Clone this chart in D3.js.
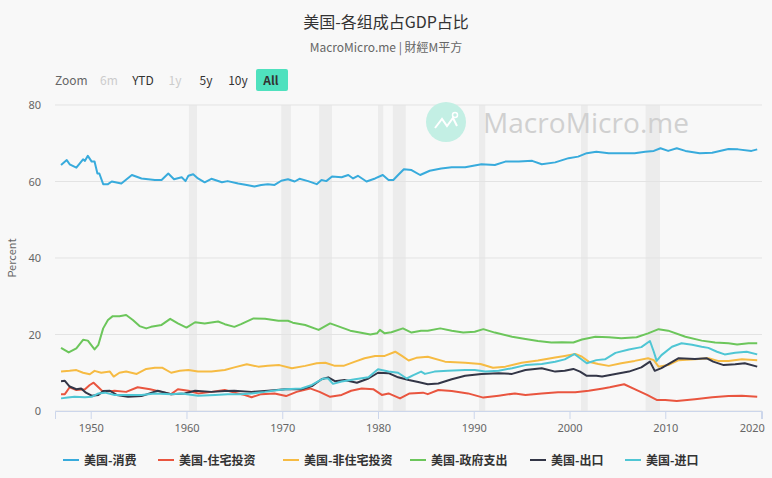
<!DOCTYPE html>
<html>
<head>
<meta charset="utf-8">
<script src="https://cdn.jsdelivr.net/npm/d3@7"></script>
<style>
  html, body { margin: 0; padding: 0; background: #f8f8f8; }
  svg { display: block; font-family: "Noto Sans CJK SC", "Noto Sans", sans-serif; }
</style>
</head>
<body>
<div id="chart"></div>
<script>
// [year, percent of GDP]
const consumption = [
  [1946.9, 64.3], [1947.5, 65.6], [1947.8, 64.5], [1948.5, 63.6], [1949.2, 65.8], [1949.4, 65.4],
  [1949.7, 66.7], [1950.1, 65.2], [1950.4, 65.2], [1950.7, 62.1], [1950.9, 62.1], [1951.3, 59.3],
  [1951.8, 59.3], [1952.2, 60.0], [1953.2, 59.5], [1954.3, 61.7], [1955.3, 60.8], [1956.7, 60.4],
  [1957.4, 60.4], [1958.1, 62.1], [1958.7, 60.6], [1959.5, 61.1], [1959.9, 60.1], [1960.2, 61.5],
  [1960.7, 61.9], [1961.2, 60.8], [1961.9, 59.8], [1962.6, 60.7], [1963.7, 59.8], [1964.3, 60.1],
  [1965.4, 59.5], [1966.3, 59.1], [1967.1, 58.7], [1967.8, 59.1], [1968.5, 59.3], [1969.2, 59.1],
  [1969.9, 60.2], [1970.6, 60.6], [1971.3, 60.0], [1971.8, 60.7], [1972.7, 60.1], [1973.6, 59.3],
  [1974.1, 60.4], [1974.6, 60.1], [1975.2, 61.3], [1976.2, 61.1], [1976.9, 61.7], [1977.4, 60.8],
  [1977.9, 61.5], [1978.8, 60.0], [1979.7, 60.8], [1980.5, 61.7], [1981.1, 60.4], [1981.6, 60.4],
  [1982.1, 61.7], [1982.7, 63.2], [1983.5, 63.0], [1984.4, 61.7], [1985.4, 62.8], [1986.6, 63.4],
  [1987.7, 63.7], [1989.1, 63.7], [1990.8, 64.5], [1992.2, 64.3], [1993.3, 65.2], [1994.7, 65.2],
  [1996.1, 65.4], [1997.1, 64.5], [1998.5, 65.0], [1999.9, 66.1], [2000.9, 66.5], [2001.8, 67.4],
  [2002.8, 67.8], [2004.1, 67.4], [2005.4, 67.4], [2006.8, 67.4], [2007.9, 67.8], [2008.8, 68.0],
  [2009.5, 68.7], [2010.3, 68.0], [2011.2, 68.7], [2012.1, 68.0], [2013.6, 67.4], [2014.9, 67.5],
  [2016.6, 68.5], [2017.6, 68.4], [2019.0, 68.0], [2019.6, 68.4]
]
const residential = [
  [1946.9, 4.4], [1947.3, 4.4], [1947.8, 6.2], [1948.5, 5.5], [1949.4, 5.7], [1949.9, 6.8],
  [1950.3, 7.4], [1950.8, 6.2], [1951.3, 5.0], [1952.5, 5.3], [1953.7, 5.0], [1954.9, 6.2],
  [1956.2, 5.7], [1957.4, 5.0], [1958.4, 4.4], [1959.1, 5.7], [1960.2, 5.3], [1961.2, 4.6],
  [1962.6, 5.0], [1964.0, 5.5], [1965.0, 4.8], [1966.1, 4.2], [1966.8, 3.6], [1967.8, 4.4],
  [1969.2, 4.6], [1970.4, 3.9], [1971.5, 5.0], [1972.9, 5.9], [1973.9, 5.0], [1975.0, 3.7],
  [1976.2, 4.2], [1977.2, 5.3], [1978.3, 5.9], [1979.5, 5.7], [1980.4, 4.2], [1981.1, 4.6],
  [1982.3, 3.3], [1983.3, 4.6], [1984.7, 4.8], [1985.2, 4.4], [1986.3, 5.5], [1987.7, 5.2],
  [1989.4, 4.6], [1991.0, 3.5], [1992.6, 4.0], [1994.3, 4.6], [1995.4, 4.2], [1997.1, 4.6],
  [1998.8, 4.9], [2000.6, 4.9], [2002.0, 5.3], [2003.5, 5.9], [2004.2, 6.2], [2005.7, 7.0],
  [2006.8, 5.7], [2008.1, 4.2], [2009.1, 2.9], [2010.0, 2.9], [2011.2, 2.6], [2013.1, 3.1],
  [2014.9, 3.6], [2016.6, 3.9], [2018.0, 4.0], [2019.6, 3.7]
]
const nonResidential = [
  [1946.9, 10.3], [1947.8, 10.5], [1948.5, 10.7], [1949.2, 10.0], [1949.9, 9.6], [1950.4, 10.5],
  [1951.1, 10.0], [1952.0, 10.3], [1952.4, 9.0], [1953.0, 10.0], [1953.7, 10.3], [1954.8, 9.7],
  [1955.8, 11.0], [1956.7, 11.3], [1957.5, 11.3], [1958.4, 10.0], [1959.3, 10.5], [1960.2, 10.7],
  [1961.2, 10.3], [1962.6, 10.3], [1964.0, 10.7], [1965.0, 11.4], [1966.3, 12.2], [1967.5, 11.6],
  [1968.5, 11.8], [1969.7, 12.0], [1971.0, 11.2], [1972.4, 11.8], [1973.6, 12.5], [1974.5, 12.6],
  [1975.5, 11.8], [1976.4, 11.8], [1977.6, 12.9], [1978.6, 13.8], [1979.7, 14.4], [1980.7, 14.4],
  [1981.8, 15.5], [1982.5, 14.4], [1983.2, 13.2], [1984.0, 13.9], [1985.2, 14.2], [1987.0, 12.9],
  [1989.1, 12.6], [1990.7, 12.3], [1992.0, 11.3], [1993.3, 11.6], [1995.0, 12.6], [1996.7, 13.2],
  [1998.5, 14.0], [1999.5, 14.4], [2000.6, 14.9], [2001.3, 14.2], [2002.0, 12.9], [2003.0, 12.3],
  [2004.1, 11.8], [2005.4, 12.5], [2006.8, 13.1], [2008.2, 13.8], [2008.8, 13.3], [2009.3, 11.6],
  [2010.3, 12.0], [2011.4, 13.3], [2013.1, 13.5], [2014.5, 13.8], [2015.5, 13.1], [2016.6, 13.1],
  [2018.0, 13.5], [2019.6, 13.3]
]
const government = [
  [1946.9, 16.5], [1947.7, 15.3], [1948.5, 16.4], [1949.2, 18.6], [1949.7, 18.4], [1950.4, 16.1],
  [1950.8, 17.3], [1951.3, 21.6], [1951.8, 23.8], [1952.3, 24.8], [1953.0, 24.8], [1953.7, 25.1],
  [1954.4, 23.8], [1955.1, 22.2], [1955.8, 21.6], [1956.3, 22.0], [1957.4, 22.5], [1958.3, 24.1],
  [1959.1, 22.9], [1960.0, 21.8], [1960.9, 23.2], [1961.9, 22.9], [1963.3, 23.4], [1964.0, 22.7],
  [1965.0, 22.0], [1965.7, 22.7], [1967.0, 24.2], [1968.2, 24.1], [1969.6, 23.6], [1970.6, 23.6],
  [1971.1, 23.1], [1972.4, 22.5], [1973.8, 21.2], [1975.0, 22.9], [1975.8, 22.2], [1977.1, 21.0],
  [1978.1, 20.5], [1979.2, 20.0], [1979.9, 20.3], [1980.2, 21.2], [1980.7, 20.3], [1981.4, 20.6],
  [1982.6, 21.6], [1983.5, 20.5], [1984.5, 21.0], [1985.2, 21.0], [1986.5, 21.6], [1987.7, 21.0],
  [1988.9, 20.5], [1990.1, 20.7], [1991.0, 21.4], [1992.2, 20.5], [1994.0, 19.4], [1995.4, 18.8],
  [1996.7, 18.3], [1998.1, 17.9], [1999.2, 18.0], [2000.4, 17.9], [2001.3, 18.7], [2002.7, 19.4],
  [2004.1, 19.3], [2005.4, 19.0], [2007.0, 19.3], [2008.2, 20.3], [2009.3, 21.4], [2010.3, 21.0],
  [2012.1, 19.4], [2013.8, 18.4], [2015.2, 17.9], [2016.6, 17.7], [2017.5, 17.4], [2018.7, 17.7],
  [2019.6, 17.7]
]
const exports = [
  [1946.9, 7.8], [1947.3, 7.9], [1947.8, 6.4], [1948.5, 5.7], [1949.0, 5.9], [1949.5, 4.8],
  [1950.1, 4.0], [1950.8, 4.2], [1951.3, 5.2], [1952.0, 5.3], [1952.7, 4.2], [1953.9, 3.7],
  [1955.3, 3.9], [1957.0, 5.3], [1958.4, 4.4], [1959.8, 4.6], [1960.9, 5.3], [1962.6, 5.0],
  [1964.0, 5.2], [1965.0, 5.3], [1966.8, 5.0], [1968.5, 5.3], [1970.3, 5.7], [1972.0, 5.7],
  [1973.1, 6.5], [1974.1, 8.3], [1974.8, 8.8], [1975.5, 7.8], [1976.5, 8.1], [1977.8, 7.4],
  [1979.0, 8.5], [1980.0, 10.0], [1981.1, 9.9], [1982.1, 8.8], [1983.2, 8.1], [1984.2, 7.6],
  [1985.2, 7.0], [1986.3, 7.2], [1987.7, 8.3], [1989.1, 9.2], [1990.8, 9.7], [1992.6, 9.9],
  [1994.0, 9.7], [1995.4, 10.7], [1997.1, 11.2], [1998.5, 10.3], [1999.5, 10.5], [2000.4, 11.0],
  [2001.1, 10.3], [2001.8, 9.2], [2002.8, 9.2], [2003.4, 9.0], [2004.8, 9.7], [2006.2, 10.3],
  [2007.5, 11.4], [2008.4, 12.9], [2008.9, 10.5], [2009.6, 11.2], [2010.5, 12.5], [2011.4, 13.8],
  [2013.1, 13.6], [2014.3, 13.8], [2015.0, 12.9], [2016.1, 12.0], [2017.3, 12.2], [2018.3, 12.5],
  [2019.6, 11.6]
]
const imports = [
  [1946.9, 3.3], [1947.6, 3.5], [1948.3, 3.7], [1949.4, 3.6], [1950.1, 3.7], [1950.8, 4.6],
  [1951.5, 4.8], [1952.5, 4.2], [1953.9, 4.2], [1955.3, 4.2], [1956.7, 4.6], [1958.4, 4.4],
  [1959.5, 4.6], [1961.2, 4.0], [1963.0, 4.2], [1964.3, 4.4], [1965.7, 4.4], [1966.8, 4.6],
  [1968.2, 5.0], [1969.0, 5.3], [1970.3, 5.7], [1972.0, 5.9], [1973.1, 6.8], [1974.3, 8.5],
  [1974.8, 8.5], [1975.3, 7.1], [1976.2, 7.7], [1977.6, 8.3], [1979.0, 8.8], [1980.0, 10.9],
  [1981.1, 10.3], [1982.1, 10.0], [1983.0, 8.5], [1983.7, 9.4], [1984.5, 10.3], [1984.9, 9.7],
  [1985.9, 10.3], [1987.3, 10.5], [1989.1, 10.7], [1990.1, 10.7], [1991.2, 10.3], [1992.6, 10.5],
  [1994.0, 11.2], [1995.4, 12.0], [1997.1, 12.3], [1998.5, 12.9], [1999.5, 13.5], [2000.5, 14.9],
  [2001.1, 13.8], [2001.8, 12.5], [2002.8, 13.3], [2003.7, 13.5], [2004.8, 15.2], [2006.2, 16.1],
  [2007.5, 16.7], [2008.4, 18.3], [2008.8, 15.5], [2009.1, 13.1], [2009.6, 14.6], [2010.7, 16.8],
  [2011.7, 17.7], [2012.8, 17.3], [2013.8, 16.8], [2014.5, 16.5], [2015.4, 15.5], [2016.2, 14.8],
  [2017.3, 15.2], [2018.5, 15.5], [2019.6, 14.8]
]

const seriesNames = ['美国-消费', '美国-住宅投资', '美国-非住宅投资', '美国-政府支出', '美国-出口', '美国-进口']
const seriesColors = ['#38abdc', '#e9553f', '#f6bb43', '#6cc65b', '#333647', '#4fc6d4']
const seriesData = [consumption, residential, nonResidential, government, exports, imports]

const recessions = [
  [1960.25, 1961.1], [1969.9, 1970.9], [1973.85, 1975.2], [1980.0, 1980.55],
  [1981.55, 1982.9], [1990.55, 1991.2], [2001.2, 2001.9], [2007.95, 2009.45]
]
const yTicks = [0, 20, 40, 60, 80]
const xTicks = [1950, 1960, 1970, 1980, 1990, 2000, 2010, 2020]
const zoomButtons = ['6m', 'YTD', '1y', '5y', '10y', 'All']

const W = 772, H = 478
const margin = { top: 105, right: 10, bottom: 67, left: 55 }
const width = W - margin.left - margin.right
const height = H - margin.top - margin.bottom

const svg = d3.select('#chart').append('svg').attr('width', W).attr('height', H)
svg.append('rect').attr('width', W).attr('height', H).attr('fill', '#f8f8f8')

// titles
svg.append('text').attr('x', W / 2).attr('y', 28).attr('text-anchor', 'middle')
  .attr('font-size', 16).attr('fill', '#333').text('美国-各组成占GDP占比')
svg.append('text').attr('x', W / 2).attr('y', 52).attr('text-anchor', 'middle')
  .attr('font-size', 12).attr('fill', '#666').text('MacroMicro.me | 財經M平方')

// range selector
svg.append('text').attr('x', 55).attr('y', 85).attr('font-size', 12).attr('fill', '#666').text('Zoom')
const btnX = [109, 143, 175, 206, 238, 271]
zoomButtons.forEach((b, i) => {
  const disabled = b === '6m' || b === '1y'
  if (b === 'All') {
    svg.append('rect').attr('x', 256).attr('y', 69).attr('width', 32).attr('height', 22)
      .attr('rx', 2).attr('fill', '#4fe1be')
  }
  svg.append('text').attr('x', btnX[i]).attr('y', 85).attr('text-anchor', 'middle')
    .attr('font-size', 12).attr('font-weight', b === 'All' ? 'bold' : 'normal')
    .attr('fill', disabled ? '#ccc' : '#333').text(b)
})

const g = svg.append('g').attr('transform', `translate(${margin.left},${margin.top})`)

const x = d3.scaleLinear().domain([1946.27, 2020.1]).range([0, width])
const y = d3.scaleLinear().domain([0, 80]).range([height, 0])

// recession bands
recessions.forEach(([s, e]) => {
  g.append('rect').attr('x', x(s)).attr('y', 0).attr('width', x(e) - x(s)).attr('height', height)
    .attr('fill', '#ececec')
})

// grid
yTicks.forEach(t => {
  g.append('line').attr('x1', 0).attr('x2', width).attr('y1', y(t)).attr('y2', y(t))
    .attr('stroke', '#e3e3e3').attr('stroke-width', 1)
})

// watermark
const wm = svg.append('g').attr('transform', 'translate(446,122)')
wm.append('circle').attr('r', 20).attr('fill', '#c3efe4')
wm.append('path').attr('d', 'M-11,6 L-4,-3 L1,4 L7,-4 L11,4').attr('fill', 'none')
  .attr('stroke', '#fff').attr('stroke-width', 2)
wm.append('circle').attr('cx', 9).attr('cy', -7).attr('r', 2.5).attr('fill', 'none')
  .attr('stroke', '#fff').attr('stroke-width', 1.5)
wm.append('text').attr('x', 37).attr('y', 11).attr('font-family', 'Open Sans, sans-serif')
  .attr('font-size', 28).attr('textLength', 206).attr('fill', '#d0d0d0').text('MacroMicro.me')

// y axis
const yAxis = g.append('g').call(d3.axisLeft(y).tickValues(yTicks).tickSize(0).tickPadding(14))
yAxis.select('.domain').remove()
yAxis.selectAll('text').attr('font-size', 11).attr('fill', '#666')
  .attr('font-family', 'Noto Sans, sans-serif')

svg.append('text').attr('transform', `translate(16,${margin.top + height / 2}) rotate(-90)`)
  .attr('text-anchor', 'middle').attr('font-size', 11).attr('fill', '#666').text('Percent')

// x axis
const xAxis = g.append('g').attr('transform', `translate(0,${height})`)
  .call(d3.axisBottom(x).tickValues(xTicks).tickFormat(d3.format('d')).tickSize(8).tickPadding(5))
xAxis.select('.domain').attr('stroke', '#ccd6eb')
xAxis.selectAll('line').attr('stroke', '#ccd6eb')
xAxis.selectAll('text').attr('font-size', 11).attr('fill', '#666')
  .attr('font-family', 'Noto Sans, sans-serif')
xAxis.selectAll('text').filter(d => d === 2020).attr('text-anchor', 'end').attr('dx', '0.3em')

// lines
const line = d3.line().x(d => x(d[0])).y(d => y(d[1]))
seriesData.forEach((data, i) => {
  g.append('path').datum(data).attr('fill', 'none').attr('stroke', seriesColors[i])
    .attr('stroke-width', 2).attr('stroke-linejoin', 'round').attr('d', line)
})

// legend
const legendX = [63, 158, 283, 410, 530, 625]
seriesNames.forEach((name, i) => {
  const lg = svg.append('g').attr('transform', `translate(${legendX[i]},460)`)
  lg.append('line').attr('x1', 0).attr('x2', 16).attr('y1', 0).attr('y2', 0)
    .attr('stroke', seriesColors[i]).attr('stroke-width', 2)
  lg.append('text').attr('x', 21).attr('y', 4.5).attr('font-size', 12).attr('font-weight', 600)
    .attr('fill', '#333').text(name)
})
</script>
</body>
</html>
